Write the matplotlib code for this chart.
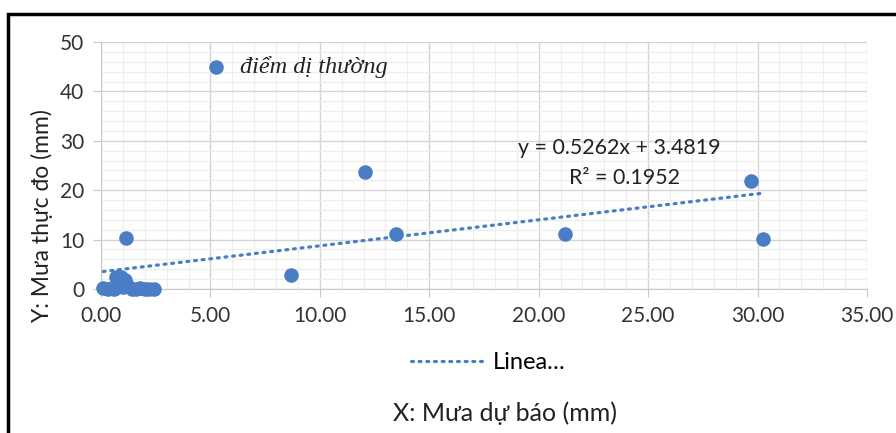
import matplotlib
matplotlib.use("Agg")
import matplotlib.pyplot as plt
from matplotlib.patches import Rectangle
from matplotlib.lines import Line2D
from matplotlib.ticker import MultipleLocator
import numpy as np

# forecast (x) vs observed (y) rainfall, mm
x_vals = [0.1, 0.3, 0.5, 0.6, 0.7, 0.8, 0.9, 1.0, 1.1, 1.2, 1.4, 1.6, 1.8, 2.0, 2.2, 2.4,
          1.15, 8.7, 12.05, 13.5, 21.2, 29.7, 30.25]
y_vals = [0.3, 0.0, 0.2, 0.0, 2.5, 1.5, 2.4, 0.5, 1.8, 0.8, 0.0, 0.0, 0.2, 0.0, 0.0, 0.0,
          10.4, 2.9, 23.6, 11.1, 11.1, 21.8, 10.1]
outlier_pt = (5.25, 45.0)
slope, intercept, r2 = 0.5262, 3.4819, 0.1952

blue = "#4A7DC4"
plt.rcParams["font.family"] = ["Lato", "DejaVu Sans"]

fig = plt.figure(figsize=(8.96, 4.33), dpi=100)
ax = fig.add_axes([0.1127, 0.3326, 0.9676 - 0.1127, 0.903 - 0.3326])

ax.scatter(x_vals, y_vals, s=110, color=blue, zorder=3, linewidths=0, clip_on=False)
ax.scatter([outlier_pt[0]], [outlier_pt[1]], s=110, color=blue, zorder=3, linewidths=0)
ax.text(outlier_pt[0] + 1.1, outlier_pt[1], "điểm dị thường", fontsize=17.5, style="italic",
        family=["Liberation Serif", "DejaVu Serif"], va="center", color="#222222")

xt = np.array([min(x_vals), max(x_vals)])
ax.plot(xt, slope * xt + intercept, color=blue, lw=2.3, ls=(0, (0.6, 1.8)),
        dash_capstyle="round", zorder=2)

ax.text(23.7, 28.5, f"y = {slope}x + {intercept}", fontsize=15.4, ha="center", va="center", color="#222222")
ax.text(23.9, 22.5, f"R² = {r2}", fontsize=15.4, ha="center", va="center", color="#222222")

ax.set_xlim(0, 35)
ax.set_ylim(0, 50)
ax.xaxis.set_major_locator(MultipleLocator(5))
ax.xaxis.set_minor_locator(MultipleLocator(1))
ax.yaxis.set_major_locator(MultipleLocator(10))
ax.yaxis.set_minor_locator(MultipleLocator(2))
ax.xaxis.set_major_formatter(lambda v, p: f"{v:.2f}")
ax.grid(which="major", color="#d4d4d4", lw=1.0)
ax.grid(which="minor", color="#eeeeee", lw=0.9)
ax.set_axisbelow(True)
for s in ["top", "right"]:
    ax.spines[s].set_visible(False)
for s in ["left", "bottom"]:
    ax.spines[s].set_color("#c8c8c8")
ax.tick_params(which="major", length=6, color="#c8c8c8", labelsize=15, labelcolor="#333333", pad=6)
ax.tick_params(which="minor", length=0)

ax.set_xlabel("X: Mưa dự báo (mm)", fontsize=18, color="#222222")
ax.xaxis.set_label_coords(0.527, -0.457)
ax.set_ylabel("Y: Mưa thực đo (mm)", fontsize=16.5, color="#222222")
ax.yaxis.set_label_coords(-0.062, 0.296)

handle = Line2D([], [], color=blue, lw=2.3, ls=(0, (0.6, 1.8)), dash_capstyle="round")
fig.legend([handle], ["Linea…"], loc="center", bbox_to_anchor=(0.545, 0.162), frameon=False,
           fontsize=17, handlelength=3.0, handletextpad=0.5)

fig.add_artist(Rectangle((0.009, -0.1), 1.2, 0.1 + 0.968, transform=fig.transFigure,
                         fill=False, edgecolor="black", lw=2.5))

fig.savefig("out.png", dpi=100)
